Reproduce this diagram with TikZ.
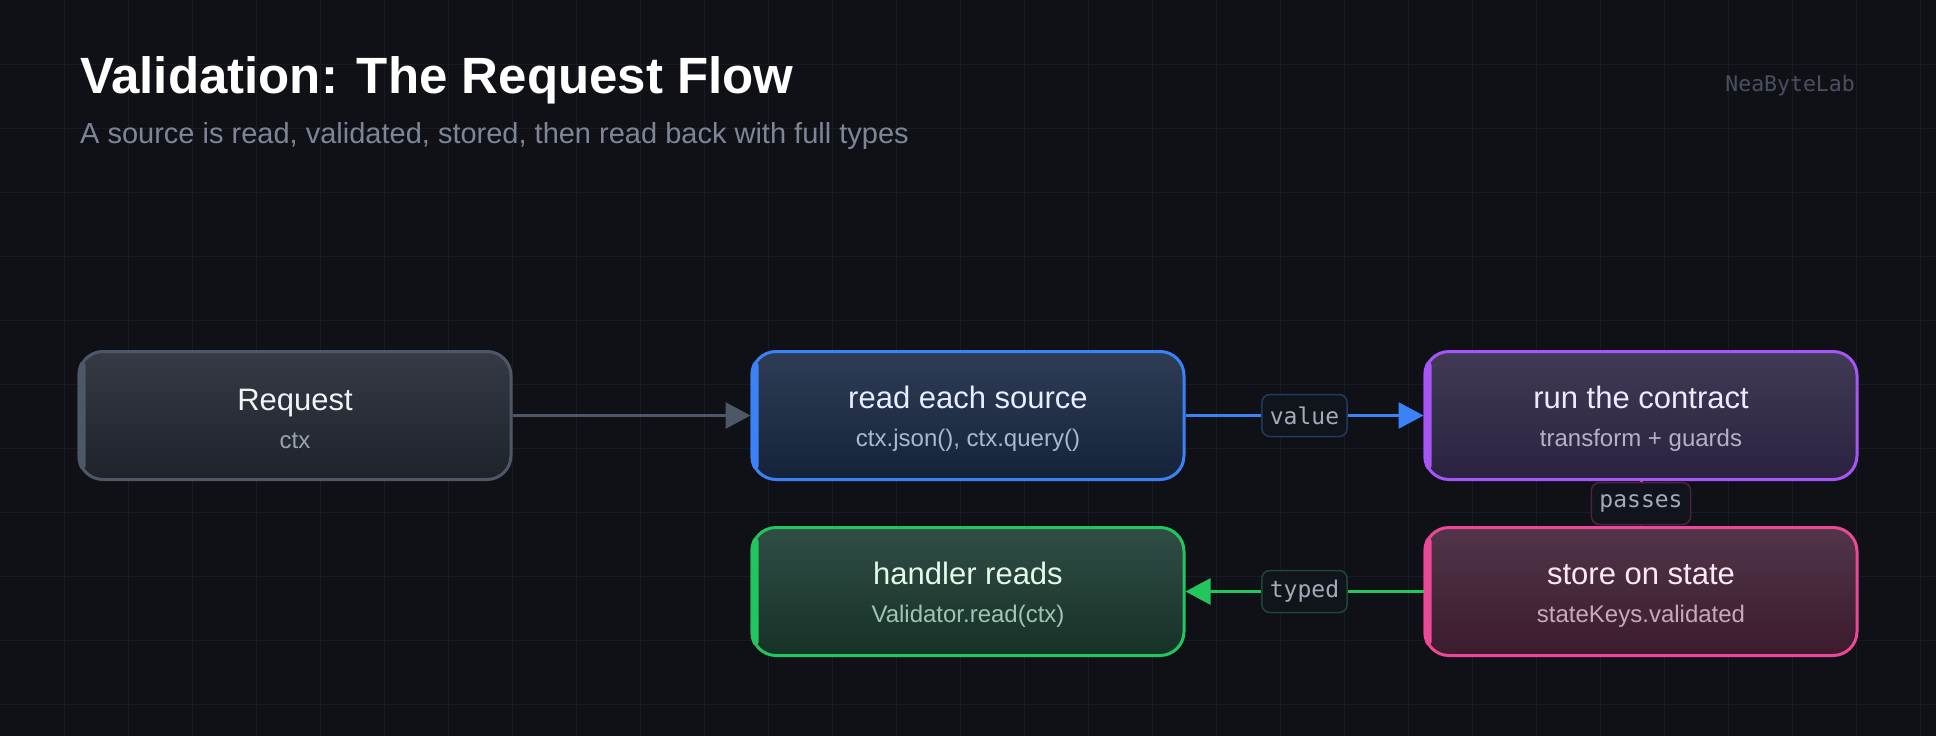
\documentclass[tikz,border=0pt]{standalone}
\usepackage{fontspec}
\setmainfont{Liberation Sans}
\setmonofont{DejaVu Sans Mono}
\usetikzlibrary{arrows.meta,positioning}

\definecolor{bg}{HTML}{0F1117}
\definecolor{gridc}{HTML}{181B23}
\definecolor{subgray}{HTML}{7D8597}
\definecolor{markc}{HTML}{4A5060}
\definecolor{lblfill}{HTML}{11141B}
\definecolor{lbltext}{HTML}{A3ABBA}
% box colours: line, top, bottom, title, sub
\definecolor{reqline}{HTML}{4E5766}\definecolor{reqtop}{HTML}{363A45}\definecolor{reqbot}{HTML}{1E222A}
\definecolor{reqtxt}{HTML}{F1F3F6}\definecolor{reqsub}{HTML}{9BA3AF}
\definecolor{readline}{HTML}{3B82F6}\definecolor{readtop}{HTML}{2E3D55}\definecolor{readbot}{HTML}{15233A}
\definecolor{readtxt}{HTML}{E6EEFF}\definecolor{readsub}{HTML}{A9B8CF}
\definecolor{runline}{HTML}{A855F7}\definecolor{runtop}{HTML}{413A55}\definecolor{runbot}{HTML}{2A2240}
\definecolor{runtxt}{HTML}{F2E9FF}\definecolor{runsub}{HTML}{B8AFC9}
\definecolor{storeline}{HTML}{EC4899}\definecolor{storetop}{HTML}{52354A}\definecolor{storebot}{HTML}{3B1B2C}
\definecolor{storetxt}{HTML}{FCE9F3}\definecolor{storesub}{HTML}{C6A9BA}
\definecolor{handline}{HTML}{22C55E}\definecolor{handtop}{HTML}{304D46}\definecolor{handbot}{HTML}{163126}
\definecolor{handtxt}{HTML}{E4FBEA}\definecolor{handsub}{HTML}{A3C4B2}
% label borders
\definecolor{valueborder}{HTML}{1F3A63}
\definecolor{passborder}{HTML}{4F2140}
\definecolor{typedborder}{HTML}{1B4A2E}

\newcommand{\boxsub}[2]{{\fontsize{24}{30}\selectfont\color{#1}#2}}

\begin{document}
\begin{tikzpicture}[x=1pt, y=-1pt, >={Triangle[length=25pt, width=26pt]},
      box/.style={draw, line width=3pt, rounded corners=24pt, align=center, inner sep=0pt,
                  minimum width=432pt, minimum height=128pt, font=\fontsize{31}{38}\selectfont},
      reqbox/.style={box, draw=reqline, top color=reqtop, bottom color=reqbot, text=reqtxt},
      readbox/.style={box, draw=readline, top color=readtop, bottom color=readbot, text=readtxt},
      runbox/.style={box, draw=runline, top color=runtop, bottom color=runbot, text=runtxt},
      storebox/.style={box, draw=storeline, top color=storetop, bottom color=storebot, text=storetxt},
      handbox/.style={box, draw=handline, top color=handtop, bottom color=handbot, text=handtxt},
      lbl/.style={fill=lblfill, line width=1.5pt, rounded corners=8pt, text=lbltext,
                  font=\ttfamily\fontsize{23}{26}\selectfont, inner xsep=8pt, inner ysep=0pt,
                  minimum height=42pt},
      ar/.style={->, line width=3pt}]
    % --- background and grid ---
    \fill[bg] (0,0) rectangle (1936,736);
    \useasboundingbox (0,0) rectangle (1936,736);
    \foreach \gx in {64,128,...,1920} \draw[gridc, line width=1pt] (\gx,0) -- (\gx,736);
    \foreach \gy in {64,128,...,704} \draw[gridc, line width=1pt] (0,\gy) -- (1936,\gy);
    % --- heading ---
    \node[anchor=base west, inner sep=0pt, text=white, font=\bfseries\fontsize{51}{60}\selectfont]
      (title) at (80,93) {Validation: The Request Flow};
    \node[anchor=base west, inner sep=0pt, text=subgray, font=\fontsize{29}{34}\selectfont]
      (subtitle) at (80,143) {A source is read, validated, stored, then read back with full types};
    \node[anchor=base east, inner sep=0pt, text=markc, font=\ttfamily\fontsize{21.5}{24}\selectfont]
      (mark) at (1855,91) {NeaByteLab};
    % --- top row ---
    \node[reqbox] (req) at (295,415.5) {\rule{0pt}{28pt}Request\\\boxsub{reqsub}{ctx}};
    \node[readbox, right=238pt of req] (read) {\rule{0pt}{28pt}read each source\\\boxsub{readsub}{ctx.json(), ctx.query()}};
    \node[runbox, right=238pt of read] (run) {\rule{0pt}{28pt}run the contract\\\boxsub{runsub}{transform + guards}};
    % --- bottom row ---
    \node[storebox, below=45pt of run] (store) {\rule{0pt}{28pt}store on state\\\boxsub{storesub}{stateKeys.validated}};
    \node[handbox, below=45pt of read] (hand) {\rule{0pt}{28pt}handler reads\\\boxsub{handsub}{Validator.read(ctx)}};
    % accent bar on the left edge of each box
    \foreach \n/\c in {req/reqline, read/readline, run/runline, store/storeline, hand/handline} {
      \begin{scope}
        \clip[rounded corners=24pt] (\n.north west) rectangle (\n.south east);
        \fill[\c, rounded corners=3pt] ([yshift=-12pt]\n.north west) rectangle ([xshift=8pt, yshift=12pt]\n.south west);
      \end{scope}
    }
    % --- connectors ---
    \draw[ar, reqline] (req) -- (read);
    \draw[ar, readline] (read) -- (run) node[lbl, draw=valueborder, midway] (value) {value};
    \draw[ar, storeline] (run) -- (store) node[lbl, draw=passborder, midway] (passes) {passes};
    \draw[ar, handline] (store) -- (hand) node[lbl, draw=typedborder, midway] (typed) {typed};
  \end{tikzpicture}
\end{document}
